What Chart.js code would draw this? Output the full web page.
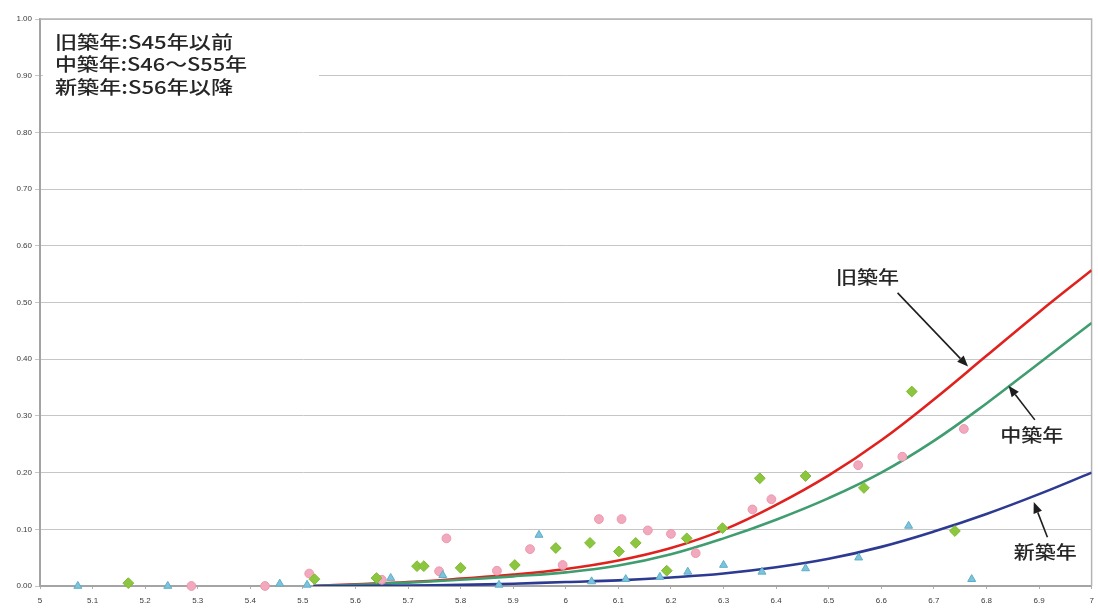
<!DOCTYPE html>
<html>
<head>
<meta charset="utf-8">
<script src="https://cdn.jsdelivr.net/npm/chart.js@4.4.1/dist/chart.umd.min.js"></script>
<style>
  html, body { margin: 0; padding: 0; background: #ffffff; }
  #wrap { width: 1098px; height: 608px; }
</style>
</head>
<body>
<div id="wrap"><canvas id="c" width="1098" height="608"></canvas></div>
<script>
// Axis ticks
const xTicks = [5, 5.1, 5.2, 5.3, 5.4, 5.5, 5.6, 5.7, 5.8, 5.9, 6, 6.1, 6.2, 6.3, 6.4, 6.5, 6.6, 6.7, 6.8, 6.9, 7];
const xTickLabels = ['5', '5.1', '5.2', '5.3', '5.4', '5.5', '5.6', '5.7', '5.8', '5.9', '6', '6.1', '6.2', '6.3', '6.4', '6.5', '6.6', '6.7', '6.8', '6.9', '7'];
const yTicks = [0, 0.1, 0.2, 0.3, 0.4, 0.5, 0.6, 0.7, 0.8, 0.9, 1];
const yTickLabels = ['0.00', '0.10', '0.20', '0.30', '0.40', '0.50', '0.60', '0.70', '0.80', '0.90', '1.00'];

// Fitted curves (one value per curveX)
const curveX   = [5.52, 5.6, 5.7, 5.8, 5.9, 6.0, 6.1, 6.2, 6.3, 6.4, 6.5, 6.6, 6.7, 6.8, 6.9, 7.0];
const oldCurve = [0.000, 0.003, 0.007, 0.013, 0.020, 0.030, 0.045, 0.067, 0.099, 0.143, 0.195, 0.257, 0.329, 0.406, 0.483, 0.557];
const midCurve = [0.000, 0.002, 0.006, 0.011, 0.017, 0.024, 0.036, 0.056, 0.084, 0.117, 0.155, 0.200, 0.256, 0.322, 0.393, 0.464];
const newCurve = [0.000, 0.000, 0.001, 0.002, 0.004, 0.007, 0.010, 0.015, 0.022, 0.033, 0.048, 0.069, 0.096, 0.127, 0.162, 0.200];

// Observed points
const oldPtX = [5.288, 5.428, 5.512, 5.650, 5.759, 5.773, 5.869, 5.932, 5.994, 6.063, 6.106, 6.156, 6.200, 6.247, 6.355, 6.391, 6.556, 6.640, 6.757];
const oldPtY = [0.000, 0.000, 0.022, 0.011, 0.026, 0.084, 0.027, 0.065, 0.037, 0.118, 0.118, 0.098, 0.092, 0.058, 0.135, 0.153, 0.213, 0.228, 0.277];
const midPtX = [5.168, 5.522, 5.640, 5.717, 5.730, 5.800, 5.903, 5.981, 6.046, 6.101, 6.133, 6.192, 6.230, 6.298, 6.369, 6.456, 6.567, 6.658, 6.740];
const midPtY = [0.005, 0.012, 0.014, 0.035, 0.035, 0.032, 0.037, 0.067, 0.076, 0.061, 0.076, 0.027, 0.084, 0.102, 0.190, 0.194, 0.173, 0.343, 0.097];
const newPtX = [5.072, 5.243, 5.456, 5.508, 5.667, 5.766, 5.873, 5.949, 6.049, 6.114, 6.179, 6.232, 6.300, 6.373, 6.456, 6.557, 6.652, 6.772];
const newPtY = [0.000, 0.000, 0.004, 0.002, 0.014, 0.019, 0.002, 0.090, 0.008, 0.012, 0.016, 0.025, 0.037, 0.025, 0.031, 0.050, 0.106, 0.012];

const legendLines = ['旧築年:S45年以前', '中築年:S46～S55年', '新築年:S56年以降'];

// Curve labels with arrows, in data coordinates
const curveNotes = [
  { text: '旧築年', x: 6.574, y: 0.545, from: [6.631, 0.517], to: [6.765, 0.387] },
  { text: '中築年', x: 6.886, y: 0.266, from: [6.892, 0.293], to: [6.842, 0.353] },
  { text: '新築年', x: 6.912, y: 0.060, from: [6.916, 0.086], to: [6.890, 0.148] }
];

const zip = (xs, ys) => xs.map((x, i) => ({ x: x, y: ys[i] }));
const CJK = '"Noto Sans CJK JP", "Noto Sans", sans-serif';

function stretchedText(ctx, text, x, y, width, align) {
  const w = ctx.measureText(text).width;
  const sx = width / w;
  ctx.save();
  ctx.translate(x, y);
  ctx.scale(sx, 1);
  ctx.textBaseline = 'middle';
  ctx.textAlign = align === 'center' ? 'center' : 'left';
  ctx.fillText(text, 0, 0);
  ctx.restore();
}

const framePlugin = {
  id: 'frame',
  beforeDatasetsDraw(chart) {
    const { ctx, chartArea: a } = chart;
    ctx.save();
    // top and right edges of the plot frame
    ctx.strokeStyle = '#b4b4b4';
    ctx.lineWidth = 1.5;
    ctx.beginPath();
    ctx.moveTo(a.left, a.top);
    ctx.lineTo(a.right, a.top);
    ctx.lineTo(a.right, a.bottom);
    ctx.stroke();
    // era legend box
    ctx.fillStyle = '#ffffff';
    ctx.fillRect(a.left + 3, a.top + 4, 276, 78);
    ctx.fillStyle = '#262626';
    ctx.font = '500 18px ' + CJK;
    const widths = [178, 192, 178];
    legendLines.forEach((t, i) => {
      stretchedText(ctx, t, a.left + 15, a.top + 23 + i * 22.5, widths[i], 'left');
    });
    ctx.restore();
  },
  afterDatasetsDraw(chart) {
    const { ctx, scales } = chart;
    const sx = scales.x, sy = scales.y;
    ctx.save();
    ctx.strokeStyle = '#1e1e1e';
    ctx.font = '500 18px ' + CJK;
    curveNotes.forEach(n => {
      ctx.fillStyle = '#262626';
      stretchedText(ctx, n.text, sx.getPixelForValue(n.x), sy.getPixelForValue(n.y), 63, 'center');
      const x1 = sx.getPixelForValue(n.from[0]), y1 = sy.getPixelForValue(n.from[1]);
      const x2 = sx.getPixelForValue(n.to[0]), y2 = sy.getPixelForValue(n.to[1]);
      const ang = Math.atan2(y2 - y1, x2 - x1);
      const len = 11, half = 4.5;
      const bx = x2 - len * Math.cos(ang), by = y2 - len * Math.sin(ang);
      ctx.lineWidth = 1.6;
      ctx.beginPath();
      ctx.moveTo(x1, y1);
      ctx.lineTo(bx, by);
      ctx.stroke();
      ctx.beginPath();
      ctx.moveTo(x2, y2);
      ctx.lineTo(bx + half * Math.sin(ang), by - half * Math.cos(ang));
      ctx.lineTo(bx - half * Math.sin(ang), by + half * Math.cos(ang));
      ctx.closePath();
      ctx.fillStyle = '#1e1e1e';
      ctx.fill();
    });
    ctx.restore();
  }
};

const curveStyle = (color) => ({
  showLine: true,
  pointRadius: 0,
  borderColor: color,
  borderWidth: 2.6,
  tension: 0.4,
  fill: false
});

new Chart(document.getElementById('c'), {
  type: 'scatter',
  data: {
    datasets: [
      Object.assign({ label: '旧築年', data: zip(curveX, oldCurve), order: 6 }, curveStyle('#e0221f')),
      Object.assign({ label: '中築年', data: zip(curveX, midCurve), order: 5 }, curveStyle('#3f9d70')),
      Object.assign({ label: '新築年', data: zip(curveX, newCurve), order: 4 }, curveStyle('#2d3a92')),
      {
        label: '旧築年 実績', data: zip(oldPtX, oldPtY), order: 3, clip: false,
        pointStyle: 'circle', pointRadius: 4.4,
        backgroundColor: '#f3a9bd', borderColor: '#eb98ae', borderWidth: 1
      },
      {
        label: '中築年 実績', data: zip(midPtX, midPtY), order: 2, clip: false,
        pointStyle: 'rectRot', pointRadius: 5.4,
        backgroundColor: '#8cc63e', borderColor: '#7fb934', borderWidth: 1
      },
      {
        label: '新築年 実績', data: zip(newPtX, newPtY), order: 1, clip: false,
        pointStyle: 'triangle', pointRadius: 4.6,
        backgroundColor: '#7dc3da', borderColor: '#5eaecb', borderWidth: 1
      }
    ]
  },
  options: {
    responsive: false,
    animation: false,
    events: [],
    layout: { padding: { top: 19, right: 6, left: 0, bottom: 0 } },
    plugins: { legend: { display: false }, tooltip: { enabled: false } },
    scales: {
      x: {
        type: 'linear',
        min: 5, max: 7,
        afterBuildTicks: s => { s.ticks = xTicks.map(v => ({ value: v })); },
        afterFit: s => { s.height = 22; s.paddingLeft = 0; s.paddingRight = 0; },
        ticks: {
          callback: (v, i) => xTickLabels[i],
          autoSkip: false, maxRotation: 0, minRotation: 0,
          padding: 7,
          color: '#3a3a3a',
          font: { family: '"Liberation Sans", Arial, sans-serif', size: 8 }
        },
        grid: { drawOnChartArea: false, drawTicks: true, tickLength: 3, color: '#b0b0b0' },
        border: { color: '#a4a4a4', width: 2 }
      },
      y: {
        type: 'linear',
        min: 0, max: 1,
        afterBuildTicks: s => { s.ticks = yTicks.map(v => ({ value: v })); },
        afterFit: s => { s.width = 40; s.paddingTop = 0; s.paddingBottom = 0; },
        ticks: {
          callback: (v, i) => yTickLabels[i],
          padding: 3,
          color: '#3a3a3a',
          font: { family: '"Liberation Sans", Arial, sans-serif', size: 8 }
        },
        grid: { color: '#c6c6c6', lineWidth: 1, tickLength: 5 },
        border: { color: '#a4a4a4', width: 2 }
      }
    }
  },
  plugins: [framePlugin]
});
</script>
</body>
</html>
